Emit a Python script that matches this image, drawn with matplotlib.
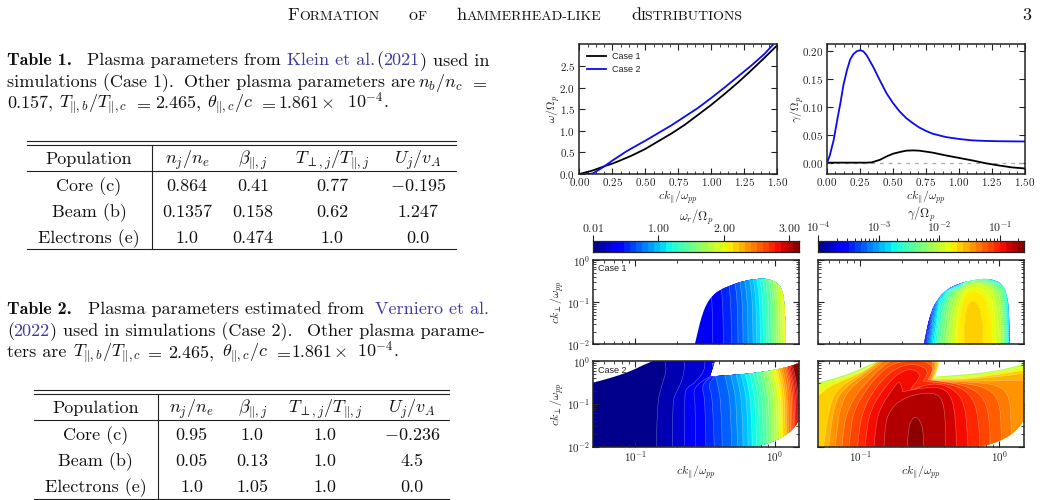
# Two parameter tables and the dispersion / growth-rate panels for Case 1 and Case 2
import numpy as np
import matplotlib
matplotlib.use("Agg")
import matplotlib.pyplot as plt
from matplotlib.colors import ListedColormap
from matplotlib.lines import Line2D
from matplotlib.patches import PathPatch
from matplotlib.path import Path
from matplotlib.ticker import AutoMinorLocator, NullFormatter

plt.rcParams["mathtext.fontset"] = "cm"
plt.rcParams["font.family"] = "cmr10"
plt.rcParams["axes.formatter.use_mathtext"] = True
plt.rcParams["axes.unicode_minus"] = False

# ---------- table contents ----------
TABLE_HEAD = ["Population", r"$n_j/n_e$", r"$\beta_{\|,j}$",
              r"$T_{\perp,j}/T_{\|,j}$", r"$U_j/v_A$"]
TABLE1_ROWS = [["Core (c)", "0.864", "0.41", "0.77", r"$-0.195$"],
               ["Beam (b)", "0.1357", "0.158", "0.62", "1.247"],
               ["Electrons (e)", "1.0", "0.474", "1.0", "0.0"]]
TABLE2_ROWS = [["Core (c)", "0.95", "1.0", "1.0", r"$-0.236$"],
               ["Beam (b)", "0.05", "0.13", "1.0", "4.5"],
               ["Electrons (e)", "1.0", "1.05", "1.0", "0.0"]]

# ---------- line panels ----------
K1_W = [0, .1, .2, .25, .3, .4, .5, .6, .7, .75, .8, .9, 1.0, 1.1, 1.2, 1.3, 1.4, 1.5]
W1 = [0, .08, .19, .24, .30, .43, .58, .76, .94, 1.04, 1.14, 1.37, 1.6, 1.85, 2.11, 2.39, 2.68, 2.98]
K2_W = [0, .05, .1, .15, .2, .25, .3, .35, .4, .5, .6, .7, .8, .9, 1.0, 1.1, 1.2, 1.3, 1.4, 1.47, 1.5]
W2 = [0, 0, .01, .1, .2, .31, .41, .51, .6, .77, .95, 1.13, 1.33, 1.53, 1.76, 2.0, 2.25, 2.5, 2.77, 3.0, 3.12]

K1_G = [0, .3, .34, .4, .45, .5, .55, .6, .65, .7, .8, .9, 1.0, 1.1, 1.2, 1.3, 1.4, 1.5]
G1 = [0, 0, .0005, .005, .011, .016, .019, .0215, .022, .0215, .018, .013, .0085, .004, -.001, -.005, -.0085, -.0105]
K2_G = [0, .02, .05, .08, .1, .125, .15, .175, .2, .225, .25, .275, .3, .35, .4, .45, .5, .55, .6, .65,
        .7, .75, .8, .85, .9, 1.0, 1.1, 1.2, 1.3, 1.5]
G2 = [0, .012, .04, .08, .105, .14, .165, .185, .195, .2, .202, .2, .193, .172, .148, .125, .107, .092, .08, .071,
      .063, .057, .052, .049, .046, .0425, .04, .039, .0385, .038]

# ---------- colour bar ranges ----------
W_EDGES = np.linspace(0.01, 3.15, 35)
G_EXP_EDGES = np.linspace(-4, -0.6, 35)

# ---------- Case 1, omega_r: outline of the unstable region and contours ----------
C1_W_REGION_K = [-.573, -.549, -.525, -.489, -.442, -.394, -.322, -.227, -.107, -.036, .024, .053, .067, .076, .079]
C1_W_REGION_P = [-2, -1.66, -1.344, -1.028, -.83, -.711, -.609, -.498, -.435, -.458, -.553, -.711, -.949, -1.423, -2]
C1_W_BASE = 0.33
C1_W_BANDS = [.43, .52, .61, .70, .80, .89, .98, 1.07, 1.16, 1.26, 1.35, 1.44, 1.53, 1.63, 1.72, 1.81, 1.90, 2.0, 2.09]
C1_W_ROWS_P = [-2, -1.42, -.95, -.63, -.4]
C1_W_CONTOURS_K = [
    [-.444, -.368, -.310, -.263, -.227, -.191, -.155, -.129, -.103, -.081, -.060, -.041, -.019, -.005, .012, .029, .045, .060, .072],
    [-.446, -.370, -.312, -.265, -.229, -.193, -.157, -.131, -.105, -.083, -.062, -.043, -.021, -.007, .010, .027, .043, .058, .070],
    [-.451, -.375, -.317, -.270, -.234, -.198, -.162, -.136, -.110, -.088, -.067, -.048, -.026, -.012, .005, .022, .038, .053, .065],
    [-.461, -.385, -.327, -.280, -.244, -.208, -.172, -.146, -.120, -.098, -.077, -.058, -.036, -.022, -.005, .012, .028, .043, .055],
    [-.473, -.397, -.339, -.292, -.256, -.220, -.184, -.158, -.132, -.110, -.089, -.070, -.048, -.034, -.017, 0, .016, .031, .043],
]

# ---------- Case 1, gamma: log10(gamma) on a coarse grid ----------
C1_G_REGION_K = [-.543, -.524, -.495, -.452, -.381, -.286, -.19, -.095, -.024, .024, .052, .067, .071, .074]
C1_G_REGION_P = [-2, -1.66, -1.265, -.949, -.696, -.553, -.474, -.435, -.49, -.593, -.791, -1.107, -1.581, -2]
C1_G_GRID_K = [-.595, -.543, -.512, -.476, -.429, -.357, -.286, -.25, -.221, -.19, -.155, -.119, -.052, 0, .036, .06, .074, .107]
C1_G_GRID_P = [-2, -1.58, -1.265, -.99, -.75, -.593, -.498, -.411, -.3]
C1_G_TABLE = [
    [-4.5, -3.7, -3.2, -2.8, -2.4, -2.05, -1.76, -1.70, -1.67, -1.66, -1.67, -1.70, -1.8, -2.0, -2.35, -2.8, -3.4, -4.5],
    [-4.5, -4.3, -3.6, -3.0, -2.5, -2.1, -1.78, -1.70, -1.67, -1.66, -1.67, -1.70, -1.81, -2.02, -2.38, -2.8, -3.3, -4.5],
    [-4.5, -4.5, -3.9, -3.2, -2.6, -2.15, -1.82, -1.71, -1.68, -1.67, -1.68, -1.72, -1.84, -2.07, -2.42, -2.85, -3.3, -4.5],
    [-4.5, -4.5, -4.5, -3.6, -2.8, -2.25, -1.92, -1.76, -1.71, -1.695, -1.71, -1.76, -1.9, -2.15, -2.48, -2.9, -3.4, -4.5],
    [-4.5, -4.5, -4.5, -4.5, -3.4, -2.5, -2.1, -1.88, -1.82, -1.80, -1.81, -1.85, -2.0, -2.25, -2.55, -3.0, -3.5, -4.5],
    [-4.5, -4.5, -4.5, -4.5, -4.5, -4.1, -2.9, -2.3, -2.05, -1.98, -1.97, -2.02, -2.25, -2.55, -3.0, -3.8, -4.5, -4.5],
    [-4.5, -4.5, -4.5, -4.5, -4.5, -4.5, -4.2, -3.3, -2.7, -2.4, -2.3, -2.35, -2.75, -3.4, -4.5, -4.5, -4.5, -4.5],
    [-4.5, -4.5, -4.5, -4.5, -4.5, -4.5, -4.5, -4.5, -4.0, -3.4, -3.0, -2.9, -3.5, -4.5, -4.5, -4.5, -4.5, -4.5],
    [-4.5, -4.5, -4.5, -4.5, -4.5, -4.5, -4.5, -4.5, -4.5, -4.5, -4.5, -4.5, -4.5, -4.5, -4.5, -4.5, -4.5, -4.5],
]

# ---------- Case 2: outline shared by both panels ----------
C2_REGION_K = [-1.313, -1.301, -1.205, -1.110, -1.014, -.943, -.871, -.847, -.43, -.43, -.446, -.465, -.465,
               -.418, -.203, -.036, .107, .174, .191, .191, -1.313]
C2_REGION_P = [-.506, -.506, -.42, -.327, -.21, -.093, 0, .062, .062, 0, -.171, -.366, -.366,
               -.35, -.304, -.233, -.132, -.054, -.02, -2.117, -2.117]

# Case 2, omega_r: contours that run into the ridge
C2_W_BASE = 0.056
C2_W_UPPER = [
    (.15, [-.847, -.847, -.811, -.776, -.788, -.788], [-2, -1.066, -.56, -.249, 0, .062]),
    (.24, [-.735, -.735, -.704, -.656, -.644, -.644], [-2, -.949, -.716, -.405, 0, .062]),
    (.33, [-.649, -.649, -.632, -.561, -.501, -.501], [-2, -.794, -.623, -.482, -.21, .062]),
    (.43, [-.566, -.568, -.585, -.537, -.465], [-2, -.988, -.677, -.498, -.366]),
    (.52, [-.494, -.496, -.525, -.489, -.453], [-2, -.949, -.599, -.444, -.366]),
    (.61, [-.434, -.442, -.477, -.442, -.43], [-2, -.872, -.56, -.405, -.35]),
]
# Case 2, omega_r: the remaining contours, one column per level
C2_W_BANDS = [.70, .80, .89, .98, 1.07, 1.16, 1.26, 1.35, 1.44, 1.53, 1.63, 1.72, 1.81, 1.90, 2.0, 2.09,
              2.18, 2.27, 2.36, 2.46, 2.55, 2.64, 2.73, 2.83, 2.92, 3.01, 3.10]
C2_W_ROWS_P = [-2, -1.03, -.56, -.29, -.05]
C2_W_CONTOURS_K = [
    [-.377, -.310, -.267, -.227, -.191, -.162, -.131, -.105, -.081, -.055, -.036, -.017, 0, .017, .033, .048, .060, .076, .088, .100, .115, .126, .136, .146, .155, .165, .174],
    [-.382, -.315, -.272, -.232, -.196, -.167, -.136, -.110, -.085, -.059, -.039, -.020, -.003, .014, .031, .046, .058, .074, .086, .098, .113, .124, .134, .144, .153, .163, .172],
    [-.408, -.341, -.298, -.258, -.222, -.192, -.160, -.133, -.108, -.081, -.061, -.041, -.023, -.005, .013, .029, .042, .059, .071, .084, .100, .111, .121, .132, .141, .151, .160],
    [-.429, -.362, -.319, -.279, -.243, -.213, -.181, -.154, -.129, -.102, -.081, -.061, -.043, -.024, -.005, .011, .024, .041, .053, .066, .081, .092, .102, .113, .122, .132, .141],
    [-.45, -.39, -.35, -.31, -.27, -.24, -.21, -.18, -.155, -.13, -.105, -.085, -.065, -.045, -.025, -.01, .005, .02, .035, .05, .065, .075, .085, .095, .105, .115, .125],
]

# Case 2, gamma: nested contours, outermost first, as (log10 gamma, log k_par, log k_perp)
C2_G_BASE = -2.05
C2_G_CONTOURS = [
    (-1.95, [-1.333, -1.19, -1.071, -.952, -.886, -.857, -.421, -.429, -.467, -.467, -.238, -.048, .095, .19, .214, .214, -1.333],
     [-.576, -.444, -.327, -.156, -.047, .047, .047, -.171, -.389, -.389, -.358, -.265, -.171, -.093, -.093, -2.117, -2.117]),
    (-1.85, [-1.333, -1.19, -1.071, -.952, -.876, -.845, -.429, -.436, -.471, -.471, -.238, -.048, .095, .214, .214, -1.333],
     [-.638, -.467, -.342, -.171, -.047, .047, .047, -.171, -.405, -.405, -.389, -.296, -.21, -.093, -2.117, -2.117]),
    (-1.65, [-1.333, -1.262, -1.167, -1.048, -.94, -.869, -.833, -.433, -.443, -.476, -.476, -.238, -.048, .095, .214, .214, -1.333],
     [-.911, -.677, -.506, -.358, -.171, -.031, .047, .047, -.187, -.42, -.42, -.42, -.327, -.265, -.187, -2.117, -2.117]),
    (-1.55, [-1.267, -1.262, -1.25, -1.214, -1.155, -1.036, -.917, -.857, -.443, -.452, -.481, -.481, -.238, -.048, .095, .214, .214, -1.267],
     [-2.117, -2, -1.65, -.949, -.623, -.389, -.125, .047, .047, -.187, -.436, -.436, -.436, -.374, -.327, -.265, -2.117, -2.117]),
    (-1.45, [-1.226, -1.214, -1.179, -1.119, -1.012, -.905, -.845, -.452, -.462, -.486, -.486, -.238, -.024, .095, .214, .214, -1.226],
     [-2, -1.611, -.949, -.654, -.389, -.14, .047, .047, -.187, -.451, -.451, -.467, -.467, -.451, -.444, -2.117, -2.117]),
    (-1.35, [-1.179, -1.167, -1.131, -1.071, -.976, -.881, -.821, -.464, -.471, -.495, -.495, -.238, -.024, .067, .083, .086],
     [-2, -1.533, -.949, -.638, -.389, -.132, .047, .047, -.187, -.467, -.467, -.482, -.545, -.755, -1.3, -2]),
    (-1.25, [-1.131, -1.119, -1.083, -1.024, -.94, -.845, -.762, -.476, -.481, -.505, -.505, -.238, -.071, 0, .012, .014],
     [-2, -1.494, -1.105, -.755, -.444, -.132, .047, .047, -.187, -.467, -.467, -.514, -.654, -.949, -1.494, -2]),
    (-1.15, [-1.079, -1.067, -1.036, -.976, -.893, -.798, -.69, -.548, -.481, -.481, -.514, -.514, -.262, -.119, -.071, -.067],
     [-2, -1.494, -1.105, -.755, -.405, -.109, 0, .016, -.109, -.249, -.436, -.436, -.545, -.794, -1.3, -2]),
    (-1.05, [-1.019, -1.005, -.971, -.917, -.833, -.738, -.631, -.536, -.512, -.548, -.548, -.31, -.19, -.148, -.143],
     [-2, -1.494, -1.105, -.755, -.405, -.156, -.062, -.14, -.288, -.467, -.467, -.56, -.833, -1.377, -2]),
    (-.95, [-.964, -.952, -.917, -.862, -.786, -.702, -.619, -.571, -.583, -.631, -.638, -.638, -.476, -.333, -.245, -.226],
     [-2, -1.494, -1.105, -.794, -.467, -.233, -.187, -.288, -.444, -.607, -.685, -.685, -.498, -.638, -.988, -2]),
    (-.85, [-.9, -.89, -.857, -.805, -.755, -.721, -.702, -.695, -.695, -.571, -.429, -.345, -.314, -.31],
     [-2, -1.494, -1.105, -.833, -.599, -.467, -.599, -.716, -.716, -.638, -.599, -.794, -1.339, -2]),
    (-.75, [-.829, -.824, -.786, -.714, -.607, -.476, -.41, -.388, -.386],
     [-2, -1.494, -1.144, -.911, -.778, -.732, -.872, -1.339, -2]),
    (-.65, [-.662, -.655, -.631, -.602, -.571, -.548, -.543],
     [-2, -1.572, -1.354, -1.3, -1.377, -1.611, -2]),
]

# ---------- helpers ----------
JET = plt.get_cmap("jet")
W_COLORS = [JET((i + 0.5) / 34) for i in range(34)]
G_COLORS = W_COLORS


def band_colour(value, edges):
    i = int(np.clip(np.searchsorted(edges, value) - 1, 0, 33))
    return W_COLORS[i]


def px_axes(fig, x0, y0, x1, y1):
    # axes from pixel edges, y measured from the top of the page
    return fig.add_axes([x0 / 1040, 1 - y1 / 500, (x1 - x0) / 1040, (y1 - y0) / 500])


def curve_path(logk, logp, extra=()):
    # quadratic segments through the midpoints, a doubled point keeps a sharp corner
    pts = np.column_stack([logk, logp], ).astype(float)
    verts = [pts[0]]
    codes = [Path.MOVETO]
    for i in range(1, len(pts) - 1):
        verts += [pts[i], (pts[i] + pts[i + 1]) / 2]
        codes += [Path.CURVE3, Path.CURVE3]
    verts.append(pts[-1])
    codes.append(Path.LINETO)
    for p in extra:
        verts.append(np.array(p, dtype=float))
        codes.append(Path.LINETO)
    verts.append(verts[0])
    codes.append(Path.CLOSEPOLY)
    return Path(10.0 ** np.array(verts), codes)


def add_region(ax, logk, logp, colour):
    region = PathPatch(curve_path(logk, logp), facecolor=colour, edgecolor="none", zorder=1)
    ax.add_patch(region)
    return region


def add_band(ax, region, path, colour, order):
    band = PathPatch(path, facecolor=colour, edgecolor=(1, 1, 1, 0.4), linewidth=0.4, zorder=order)
    ax.add_patch(band)
    band.set_clip_path(region)


def style_log(ax, show_x, show_y):
    ax.set_xscale("log")
    ax.set_yscale("log")
    ax.set_xlim(0.05, 1.5)
    ax.set_ylim(0.01, 1)
    ax.autoscale(False)
    ax.tick_params(which="both", direction="in", top=True, right=True, labelsize=8, color="#222222",
                   labelcolor="#222222", labelbottom=show_x, labelleft=show_y, pad=2)
    ax.tick_params(which="major", length=4, width=0.8)
    ax.tick_params(which="minor", length=2, width=0.6)
    ax.xaxis.set_minor_formatter(NullFormatter())
    ax.yaxis.set_minor_formatter(NullFormatter())
    for s in ax.spines.values():
        s.set_linewidth(1.1)
        s.set_color("#222222")
        s.set_zorder(50)
    if show_x:
        ax.set_xlabel(r"$ck_{\|}/\omega_{pp}$", fontsize=8.5, color="#222222", labelpad=-1)
    if show_y:
        ax.set_ylabel(r"$ck_{\perp}/\omega_{pp}$", fontsize=8.5, color="#222222", labelpad=1)


def style_line(ax, xticks, yticks, ylim, ylabel, fmt, ypad):
    ax.set_xlim(0, 1.5)
    ax.set_ylim(*ylim)
    ax.set_xticks(xticks)
    ax.set_xticklabels([f"${v:.2f}$" for v in xticks])
    ax.set_yticks(yticks)
    ax.set_yticklabels([fmt % v for v in yticks])
    ax.xaxis.set_minor_locator(AutoMinorLocator(4))
    ax.tick_params(which="both", direction="in", top=True, right=True, labelsize=8, color="#222222",
                   labelcolor="#222222", pad=3)
    ax.tick_params(axis="x", which="major", pad=1.3)
    ax.tick_params(which="major", length=4, width=0.8)
    ax.tick_params(which="minor", length=2, width=0.6)
    for s in ax.spines.values():
        s.set_linewidth(1.1)
        s.set_color("#222222")
    ax.set_xlabel(r"$ck_{\|}/\omega_{pp}$", fontsize=8.5, color="#222222", labelpad=0.4)
    ax.set_ylabel(ylabel, fontsize=8.5, color="#222222", labelpad=ypad)


def style_bar(cax, edges, ticks, labels, label, log=False):
    if log:
        cax.set_xscale("log")
    cax.pcolormesh(edges, [0, 1], np.arange(34)[None, :], cmap=ListedColormap(W_COLORS), vmin=0, vmax=33)
    cax.set_xlim(edges[0], edges[-1])
    cax.set_yticks([])
    cax.xaxis.tick_top()
    cax.xaxis.set_label_position("top")
    cax.set_xticks(ticks)
    cax.set_xticklabels(labels)
    cax.tick_params(which="major", direction="out", length=4.5, width=0.8, labelsize=8.5, pad=0.5,
                    color="#222222", labelcolor="#222222")
    if log:
        cax.tick_params(which="minor", direction="out", length=2.5, width=0.6, top=True, bottom=False)
        cax.xaxis.set_minor_formatter(NullFormatter())
    cax.set_xlabel(label, fontsize=9, color="#222222", labelpad=1)
    for s in cax.spines.values():
        s.set_linewidth(0.9)
        s.set_color("#222222")


def small_caps(page, words, x0, x1, baseline, big, small):
    # running head: capital first letters, small capitals after them
    rend = page.figure.canvas.get_renderer()
    pieces = []
    for w in words:
        pieces.append((w[0], big))
        pieces.append((w[1:].upper(), small))
    items = []
    width = 0.0
    for txt, size in pieces:
        t = page.text(0, baseline, txt, fontsize=size, va="baseline", color="#111111")
        w = t.get_window_extent(rend).width
        items.append((t, w))
        width += w
    gap = (x1 - x0 - width) / (len(words) - 1)
    x = x0
    for i, (t, w) in enumerate(items):
        t.set_x(x)
        x += w
        if i % 2 == 1:
            x += gap


def text_line(page, baseline, pieces, size):
    # one typeset line, each piece placed at its own x
    for x, txt, colour in pieces:
        page.text(x, baseline, txt, fontsize=size, va="baseline", color=colour)


def draw_table(page, head, rows, x0, x1, xv, columns, rules, baselines, size):
    top1, top2, mid, bottom = rules
    for y in (top1, top2, mid, bottom):
        page.add_line(Line2D([x0, x1], [y, y], color="#222222", lw=0.8))
    page.add_line(Line2D([xv, xv], [top2, bottom], color="#222222", lw=0.8))
    for j, x in enumerate(columns):
        page.text(x, baselines[0], head[j], fontsize=size, ha="center", va="baseline", color="#111111")
        for i, row in enumerate(rows):
            page.text(x, baselines[i + 1], row[j], fontsize=size, ha="center", va="baseline", color="#111111")


# ---------- page ----------
fig = plt.figure(figsize=(10.4, 5.0), dpi=100)
page = fig.add_axes([0, 0, 1, 1], zorder=-1)
page.set_xlim(0, 1040)
page.set_ylim(500, 0)
page.axis("off")

TEXT = "#111111"
LINK = "#3d3d9e"
SIZE = 13.0

small_caps(page, ["Formation", "of", "hammerhead-like", "distributions"], 287, 743, 20, 13, 10)
page.text(1031, 20, "3", fontsize=SIZE, ha="right", va="baseline", color=TEXT)

page.text(7, 65, "Table 1.", fontsize=SIZE, family="cmb10", va="baseline", color=TEXT)
text_line(page, 65, [(87, "Plasma parameters from", TEXT), (287, "Klein et al.", LINK), (376.5, "(", TEXT),
                     (383, "2021", LINK), (419.5, ") used in", TEXT)], SIZE)
text_line(page, 87, [(7, "simulations (Case 1).", TEXT), (184, "Other plasma parameters are", TEXT),
                     (418, r"$n_b/n_c$", TEXT), (469, r"$=$", TEXT)], SIZE)
text_line(page, 108, [(7, "0.157,", TEXT), (59, r"$T_{\|,b}/T_{\|,c}$", TEXT), (133, r"$=$", TEXT), (155, "2.465,", TEXT),
                      (207, r"$\theta_{\|,c}/c$", TEXT), (258, r"$=$", TEXT), (278.5, "1.861", TEXT),
                      (320, r"$\times$", TEXT), (347, r"$10^{-4}$.", TEXT)], SIZE)

draw_table(page, TABLE_HEAD, TABLE1_ROWS, 27, 456, 151.5, [89, 187, 253, 332, 418],
           (140.5, 144.5, 171, 249), [164, 190.7, 216.7, 242.7], SIZE)

page.text(7, 314, "Table 2.", fontsize=SIZE, family="cmb10", va="baseline", color=TEXT)
text_line(page, 314, [(88, "Plasma parameters estimated from", TEXT), (375, "Verniero et al.", LINK)], SIZE)
text_line(page, 336, [(7, "(", TEXT), (13.5, "2022", LINK), (49.7, ") used in simulations (Case 2).", TEXT),
                      (306.7, "Other plasma parame-", TEXT)], SIZE)
text_line(page, 357.3, [(7, "ters are", TEXT), (72.7, r"$T_{\|,b}/T_{\|,c}$", TEXT), (144, r"$=$", TEXT), (168, "2.465,", TEXT),
                        (221.7, r"$\theta_{\|,c}/c$", TEXT), (273, r"$=$", TEXT), (291.7, "1.861", TEXT),
                        (333, r"$\times$", TEXT), (356.7, r"$10^{-4}$.", TEXT)], SIZE)

draw_table(page, TABLE_HEAD, TABLE2_ROWS, 34, 449, 158.3, [95.7, 191.7, 252.3, 325, 411.7],
           (389.7, 393.7, 420, 498.7), [413.3, 440, 466, 492], SIZE)

# ---------- line panels ----------
ax_w = px_axes(fig, 579.3, 44.3, 777.3, 174)
ax_w.plot(K1_W, W1, color="black", lw=1.3, label="Case 1")
ax_w.plot(K2_W, W2, color="#0b0bf0", lw=1.3, label="Case 2")
style_line(ax_w, [0, .25, .5, .75, 1, 1.25, 1.5], [0, .5, 1, 1.5, 2, 2.5], (0, 3.0), r"$\omega/\Omega_p$", "$%.1f$", -2)
leg = ax_w.legend(loc="upper left", frameon=False, prop={"family": "Liberation Sans", "size": 6.5},
                  handlelength=2.1, handletextpad=0.6, borderaxespad=0.5, labelspacing=0.45)
for t in leg.get_texts():
    t.set_color("#222222")

ax_g = px_axes(fig, 827, 44.3, 1025, 174)
ax_g.axhline(0, color="#aaaaaa", lw=0.9, ls=(0, (3, 4)))
ax_g.plot(K1_G, G1, color="black", lw=1.3)
ax_g.plot(K2_G, G2, color="#0b0bf0", lw=1.3)
style_line(ax_g, [0, .25, .5, .75, 1, 1.25, 1.5], [0, .05, .1, .15, .2], (-0.0204, 0.2126), r"$\gamma/\Omega_p$", "$%.2f$", -3.5)

# ---------- colour bars ----------
bar_w = px_axes(fig, 593.3, 241.3, 799.3, 251.7)
style_bar(bar_w, W_EDGES, [0.01, 1, 2, 3], ["$0.01$", "$1.00$", "$2.00$", "$3.00$"], r"$\omega_r/\Omega_p$")
bar_g = px_axes(fig, 818.3, 241.3, 1024, 251.7)
style_bar(bar_g, 10.0 ** G_EXP_EDGES, [1e-4, 1e-3, 1e-2, 1e-1],
          [r"$10^{-4}$", r"$10^{-3}$", r"$10^{-2}$", r"$10^{-1}$"], r"$\gamma/\Omega_p$", log=True)

# ---------- Case 1 maps ----------
ax_a = px_axes(fig, 593.3, 260, 799.3, 344.3)
style_log(ax_a, False, True)
region = add_region(ax_a, C1_W_REGION_K, C1_W_REGION_P, band_colour(C1_W_BASE, W_EDGES))
table = np.array(C1_W_CONTOURS_K)
for n, value in enumerate(C1_W_BANDS):
    path = curve_path(table[:, n], C1_W_ROWS_P, extra=[(.3, -.05), (.3, -2)])
    add_band(ax_a, region, path, band_colour(value, W_EDGES), 2 + n)
ax_a.text(0.025, 0.87, "Case 1", transform=ax_a.transAxes, family="Liberation Sans", fontsize=6.5, color="#222222", zorder=60)

ax_b = px_axes(fig, 818.3, 260, 1024, 344.3)
style_log(ax_b, False, False)
region = add_region(ax_b, C1_G_REGION_K, C1_G_REGION_P, "white")
xx = 10.0 ** np.array(C1_G_GRID_K)
yy = 10.0 ** np.array(C1_G_GRID_P)
zz = np.array(C1_G_TABLE)
fill = ax_b.contourf(xx, yy, zz, levels=G_EXP_EDGES, colors=G_COLORS, zorder=2)
fill.set_clip_path(region)
edge = ax_b.contour(xx, yy, zz, levels=G_EXP_EDGES, colors="white", linewidths=0.3, alpha=0.4, zorder=3)
edge.set_clip_path(region)

# ---------- Case 2 maps ----------
ax_c = px_axes(fig, 593.3, 361, 799.3, 446.7)
style_log(ax_c, True, True)
region = add_region(ax_c, C2_REGION_K, C2_REGION_P, band_colour(C2_W_BASE, W_EDGES))
order = 2
for value, lk, lp in C2_W_UPPER:
    add_band(ax_c, region, curve_path(lk, lp, extra=[(.3, .1), (.3, -2)]), band_colour(value, W_EDGES), order)
    order += 1
table = np.array(C2_W_CONTOURS_K)
for n, value in enumerate(C2_W_BANDS):
    path = curve_path(table[:, n], C2_W_ROWS_P, extra=[(.3, -.05), (.3, -2)])
    add_band(ax_c, region, path, band_colour(value, W_EDGES), order)
    order += 1
ax_c.text(0.025, 0.86, "Case 2", transform=ax_c.transAxes, family="Liberation Sans", fontsize=6.5, color="#222222", zorder=60)

ax_d = px_axes(fig, 818.3, 361, 1024, 446.7)
style_log(ax_d, True, False)
region = add_region(ax_d, C2_REGION_K, C2_REGION_P, band_colour(C2_G_BASE, G_EXP_EDGES))
for n, (value, lk, lp) in enumerate(C2_G_CONTOURS):
    add_band(ax_d, region, curve_path(lk, lp), band_colour(value, G_EXP_EDGES), 2 + n)

fig.savefig("out.png", dpi=100)
